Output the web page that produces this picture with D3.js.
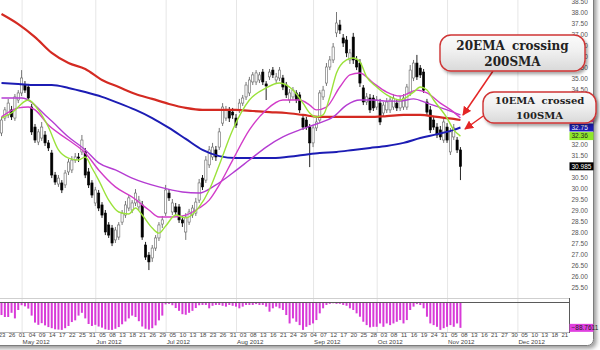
<!DOCTYPE html>
<html>
<head>
<meta charset="utf-8">
<script src="https://cdn.jsdelivr.net/npm/d3@7"></script>
<style>
  html, body { margin: 0; padding: 0; background: #fff; }
  svg { display: block; font-family: "Liberation Sans", Arial, sans-serif; }
</style>
</head>
<body>
<svg id="chart" width="600" height="350"></svg>
<script>
// daily candles, one per trading day from 2012-04-23
var opens = [
  32.50,33.18,33.32,33.55,33.18,34.00,34.32,34.68,34.59,33.68,
  32.77,32.09,32.27,32.41,32.05,31.59,30.59,30.18,30.23,30.14,
  30.73,30.82,31.27,31.41,31.64,31.64,30.73,30.23,29.32,29.77,
  29.23,28.86,28.32,28.18,27.64,27.77,28.45,28.77,29.09,29.00,
  29.32,29.14,29.23,27.41,26.95,26.82,27.27,27.73,28.36,28.86,
  29.77,28.91,29.14,29.14,28.55,28.00,28.45,28.77,28.86,29.45,
  30.45,30.36,31.05,31.41,31.73,31.86,32.95,33.18,33.55,33.45,
  33.18,33.55,33.86,34.14,34.32,34.82,34.82,34.91,35.27,34.73,
  35.05,35.36,34.91,35.00,35.00,34.68,34.00,34.14,34.32,34.23,
  33.18,33.09,32.77,32.05,32.73,33.09,34.14,34.77,35.50,35.82,
  37.05,37.41,36.82,36.73,35.82,36.86,35.82,35.68,34.55,33.91,
  34.09,34.09,33.68,33.86,33.41,33.55,33.55,33.68,33.86,33.64,
  33.68,33.68,34.32,35.00,35.68,35.45,35.27,33.91,33.55,33.09,
  32.77,32.64,32.18,32.77,31.64,32.32,32.18,31.73
];
var highs = [
  33.23,33.68,34.05,33.73,34.27,34.45,35.36,34.86,34.73,33.82,
  32.91,32.68,33.00,32.59,32.18,31.73,30.73,30.59,30.36,30.82,
  31.32,31.45,31.59,31.59,32.41,31.82,30.91,30.36,30.05,29.91,
  29.36,29.00,28.45,28.32,28.23,28.45,29.00,29.41,29.68,29.45,
  29.95,29.64,29.41,27.55,27.09,27.41,27.86,28.45,28.73,30.14,
  29.95,29.50,29.32,29.27,28.73,28.86,29.05,29.23,29.55,30.41,
  30.59,31.45,31.91,32.05,31.91,32.73,33.86,33.73,33.68,33.64,
  33.36,34.05,34.23,34.82,35.05,35.27,35.36,35.27,35.41,34.86,
  35.41,35.50,35.23,35.50,35.14,34.82,34.50,34.59,34.45,34.36,
  33.32,33.23,32.91,32.86,33.18,34.45,34.64,35.68,36.00,36.59,
  38.00,37.64,37.00,36.91,36.32,37.05,36.00,35.86,34.68,34.32,
  34.27,34.23,34.18,34.05,33.91,34.09,34.18,34.27,34.05,34.18,
  34.27,34.73,35.59,35.82,36.05,35.59,35.41,34.05,33.73,33.27,
  32.95,32.82,33.18,32.95,32.73,32.91,32.32,31.86
];
var lows = [
  32.36,33.05,33.18,33.09,33.05,33.86,34.18,34.32,33.95,32.41,
  32.05,31.95,32.14,31.91,31.68,30.45,30.14,30.05,29.77,30.00,
  30.59,30.68,31.14,31.18,31.50,30.45,30.00,29.55,29.18,28.95,
  28.64,27.86,27.73,27.36,27.50,27.64,28.32,28.64,28.95,28.86,
  29.18,29.00,27.64,26.73,26.27,26.64,27.14,27.59,28.18,28.73,
  29.41,28.77,28.77,28.41,28.23,27.64,28.32,28.64,28.73,29.32,
  29.91,30.23,30.91,31.27,31.23,31.73,32.82,33.05,33.00,33.14,
  32.73,33.41,33.73,34.00,34.18,34.68,34.68,34.77,34.68,34.00,
  34.91,35.00,34.77,34.86,34.45,34.09,33.86,34.00,33.86,33.41,
  32.64,32.64,30.95,31.86,32.59,32.95,34.00,34.64,35.36,35.68,
  36.86,37.00,36.41,35.95,35.64,35.64,35.36,34.59,33.77,33.77,
  33.41,33.50,33.55,32.86,33.27,33.41,33.41,33.55,33.50,33.50,
  33.55,33.55,34.18,34.86,34.91,35.00,34.32,33.32,32.50,32.64,
  32.27,32.18,32.05,32.05,31.50,32.18,31.59,30.36
];
var closes = [
  33.09,33.55,33.86,33.23,34.14,34.32,35.00,34.45,34.09,32.55,
  32.18,32.55,32.77,32.05,31.82,30.59,30.27,30.45,29.91,30.68,
  31.18,31.27,31.41,31.36,32.18,30.59,30.14,29.68,29.91,29.09,
  28.77,28.00,27.86,27.50,28.09,28.32,28.86,29.23,29.55,29.32,
  29.77,29.45,27.77,26.86,26.64,27.27,27.73,28.32,28.55,29.91,
  29.55,29.32,28.91,28.55,28.41,28.68,28.91,29.09,29.36,30.23,
  30.05,31.27,31.73,31.86,31.41,32.55,33.68,33.55,33.18,33.32,
  32.86,33.86,34.09,34.68,34.91,35.14,35.23,35.14,34.82,34.64,
  35.27,35.14,35.05,35.36,34.59,34.23,34.32,34.45,34.00,33.55,
  32.77,32.77,32.05,32.73,33.00,34.32,34.45,35.50,35.82,36.41,
  37.50,37.18,36.59,36.14,36.14,35.82,35.50,34.77,33.91,34.14,
  33.55,33.64,34.00,33.00,33.77,33.91,34.00,34.09,33.64,34.00,
  34.09,34.59,35.36,35.68,35.05,35.14,34.45,33.45,32.64,32.77,
  32.41,32.32,33.00,32.18,32.55,32.73,31.73,30.985
];

// Williams %R, lower pane
var willR = [
  -43,-50,-50,-35,-55,-25,-8,-12,-20,-45,
  -70,-78,-72,-80,-86,-90,-94,-95,-96,-90,
  -82,-68,-62,-45,-35,-55,-75,-82,-78,-84,
  -88,-94,-96,-96,-92,-86,-76,-66,-55,-45,
  -50,-65,-84,-92,-95,-90,-80,-62,-45,-5,
  -3,-8,-18,-28,-40,-42,-35,-28,-18,-8,
  -7,-7,-19,-10,-7,-7,-10,-13,-7,-10,
  -13,-19,-13,-7,-7,-7,-4,-7,-7,-13,
  -31,-19,-13,-19,-25,-43,-73,-55,-67,-79,
  -96,-85,-79,-73,-61,-37,-19,-7,-3,-1,
  -3,-3,-7,-10,-19,-25,-37,-49,-67,-79,
  -87,-85,-85,-73,-85,-73,-79,-73,-67,-61,
  -73,-61,-25,-13,-4,-7,-19,-49,-73,-79,
  -85,-96,-90,-85,-79,-85,-73,-88.7611
];

// moving averages at the listed trading days
var smaDays = [0,5,10,15,20,25,30,35,40,45,50,55,60,65,70,75,80,85,90,95,100,105,110,115,120,125,130,135,137];
var sma200 = [37.91,37.45,36.86,36.14,35.68,35.41,34.91,34.59,34.27,34.05,33.82,33.64,33.55,33.55,33.55,33.50,33.45,33.41,33.32,33.23,33.23,33.23,33.23,33.27,33.32,33.32,33.23,33.14,33.09];
var sma100 = [34.77,34.73,34.68,34.68,34.55,34.36,34.14,33.86,33.55,33.18,32.73,32.23,31.73,31.45,31.36,31.36,31.36,31.41,31.50,31.59,31.64,31.73,31.82,31.91,32.05,32.27,32.45,32.64,32.75];

var ema10Days = [0,3,8,11,14,17,20,23,25,27,29,32,35,38,40,42,45,47,49,52,55,59,62,65,69,74,79,83,87,90,92,94,96,98,100,103,105,107,109,112,115,119,123,125,127,129,133,135,137];
var ema10 = [33.18,33.41,34.00,33.55,32.77,31.73,31.36,31.27,31.41,30.91,30.36,29.45,28.91,28.82,29.09,28.77,28.18,27.95,28.27,28.77,28.64,29.14,29.91,31.05,32.64,34.00,34.55,34.77,34.45,33.86,33.41,33.23,33.32,34.14,35.23,35.82,35.91,35.73,35.05,34.59,34.23,34.00,34.36,34.59,34.45,34.00,33.18,32.64,32.36];

var ema20Days = [0,5,8,10,14,20,25,29,34,39,44,47,51,55,59,62,65,69,74,79,84,89,92,94,97,101,104,107,111,115,119,124,127,131,135,137];
var ema20 = [33.23,33.64,33.68,33.55,32.86,32.18,31.59,30.82,30.05,29.59,29.00,28.68,28.68,28.77,29.09,29.45,30.14,31.27,32.64,33.55,34.00,34.00,33.77,33.55,33.68,34.59,35.14,35.23,34.77,34.36,34.18,34.45,34.32,33.86,33.45,33.18];

var ema50Days = [0,6,14,20,25,29,34,39,47,54,59,64,69,74,79,84,89,94,99,103,107,111,115,119,123,127,133,137];
var ema50 = [34.09,34.09,33.18,32.32,31.73,31.14,30.82,30.45,30.05,29.82,29.77,30.14,30.68,31.27,31.86,32.32,32.64,32.91,33.23,33.77,34.00,34.00,33.95,33.95,34.05,33.86,33.55,33.32];

var holidays = ["2012-05-28","2012-07-04","2012-09-03","2012-10-29","2012-10-30","2012-11-22","2012-12-25"];
var priceTicks = d3.range(25.5, 38.51, 0.5);
var callout1 = ["20EMA crossing", "200SMA"];
var callout2 = ["10EMA crossed", "100SMA"];

var parse = d3.timeParse("%Y-%m-%d"),
    iso = d3.timeFormat("%Y-%m-%d");
var days = d3.timeDay.range(parse("2012-04-23"), parse("2012-12-31"))
    .filter(d => d.getDay() !== 0 && d.getDay() !== 6 && holidays.indexOf(iso(d)) < 0);

var plotRight = 569;

var x = d3.scaleLinear().domain([0, 168]).range([1.5, 1.5 + 3.35 * 168]);
var y = d3.scaleLinear().domain([25.5, 38]).range([287, 12]);
var yW = d3.scaleLinear().domain([-100, 0]).range([331, 303]);

var svg = d3.select("#chart");
var defs = svg.append("defs");

defs.append("filter").attr("id", "frameShadow")
    .attr("x", "-5%").attr("y", "-5%").attr("width", "115%").attr("height", "115%")
  .append("feDropShadow")
    .attr("dx", 2.5).attr("dy", 2.5).attr("stdDeviation", 2)
    .attr("flood-color", "#000").attr("flood-opacity", 0.4);

defs.append("filter").attr("id", "boxShadow")
    .attr("x", "-10%").attr("y", "-20%").attr("width", "130%").attr("height", "150%")
  .append("feDropShadow")
    .attr("dx", 2).attr("dy", 2.5).attr("stdDeviation", 1.6)
    .attr("flood-color", "#000").attr("flood-opacity", 0.35);

var grad = defs.append("linearGradient").attr("id", "boxFill")
    .attr("x1", 0).attr("y1", 0).attr("x2", 0).attr("y2", 1);
grad.append("stop").attr("offset", "0%").attr("stop-color", "#fbfbfb");
grad.append("stop").attr("offset", "45%").attr("stop-color", "#f0f0f0");
grad.append("stop").attr("offset", "100%").attr("stop-color", "#d9d9d9");

defs.append("marker").attr("id", "arrow")
    .attr("viewBox", "0 0 10 10").attr("refX", 9).attr("refY", 5)
    .attr("markerWidth", 6).attr("markerHeight", 6).attr("orient", "auto")
  .append("path").attr("d", "M0,0L10,5L0,10z").attr("fill", "#e42626");

// outer frame (only its right and bottom edges are in view)
svg.append("rect")
    .attr("x", -20).attr("y", -20).attr("width", 613.5).attr("height", 365.5).attr("rx", 6)
    .attr("fill", "#fff").attr("stroke", "#7c7c7c").attr("filter", "url(#frameShadow)");

// month grid lines
var monthStarts = d3.range(1, days.length).filter(i => days[i].getMonth() !== days[i - 1].getMonth());
svg.append("g").selectAll("line").data(monthStarts).join("line")
    .attr("x1", d => x(d) + 0.5).attr("x2", d => x(d) + 0.5)
    .attr("y1", 0).attr("y2", 332)
    .attr("stroke", "#e6e6e6");

// pane borders
svg.append("line").attr("x1", 0).attr("x2", plotRight).attr("y1", 298.5).attr("y2", 298.5).attr("stroke", "#cfcfcf");
svg.append("line").attr("x1", 0).attr("x2", plotRight).attr("y1", 302.5).attr("y2", 302.5).attr("stroke", "#5a5a5a");
svg.append("line").attr("x1", 0).attr("x2", plotRight).attr("y1", 332.5).attr("y2", 332.5).attr("stroke", "#b5b5b5");
svg.append("line").attr("x1", plotRight + 0.5).attr("x2", plotRight + 0.5).attr("y1", 298).attr("y2", 333).attr("stroke", "#5a5a5a");

// candles
var idx = d3.range(closes.length);
var candles = svg.append("g");
candles.selectAll("line").data(idx).join("line")
    .attr("x1", i => x(i)).attr("x2", i => x(i))
    .attr("y1", i => y(highs[i])).attr("y2", i => y(lows[i]))
    .attr("stroke", i => closes[i] >= opens[i] ? "#777" : "#222")
    .attr("stroke-width", 1);
candles.selectAll("rect").data(idx).join("rect")
    .attr("x", i => x(i) - 1.1)
    .attr("width", 2.2)
    .attr("y", i => y(Math.max(opens[i], closes[i])))
    .attr("height", i => Math.max(0.8, Math.abs(y(opens[i]) - y(closes[i]))))
    .attr("fill", i => closes[i] >= opens[i] ? "#fff" : "#000")
    .attr("stroke", i => closes[i] >= opens[i] ? "#666" : "#000")
    .attr("stroke-width", 0.6);

// moving averages
function maLine(daysArr, vals, color, w) {
  var line = d3.line()
      .x((d, k) => x(daysArr[k]))
      .y(d => y(d))
      .curve(d3.curveMonotoneX);
  svg.append("path").datum(vals)
      .attr("d", line)
      .attr("fill", "none")
      .attr("stroke", color)
      .attr("stroke-width", w)
      .attr("stroke-linejoin", "round");
}
maLine(smaDays, sma200, "#d42a22", 2.2);
maLine(smaDays, sma100, "#1c1cb4", 2);
maLine(ema50Days, ema50, "#b43cd2", 1.4);
maLine(ema20Days, ema20, "#d23cc8", 1.4);
maLine(ema10Days, ema10, "#9be23a", 1.4);

// %R bars
svg.append("g").selectAll("rect").data(idx).join("rect")
    .attr("x", i => x(i) - 1)
    .attr("width", 2)
    .attr("y", 303)
    .attr("height", i => yW(willR[i]) - 303)
    .attr("fill", "#d83ad8");

// value tags on the right edge; labels they sit on are not shown
var last = closes.length - 1;
var tags = [
  {v: y(ema20[ema20.length - 1]), label: d3.format(".2f")(ema20[ema20.length - 1]), bg: "#d23cd2", fg: "#222"},
  {v: y(sma100[sma100.length - 1]), label: d3.format(".2f")(sma100[sma100.length - 1]), bg: "#1c1cb4", fg: "#fff"},
  {v: y(ema10[ema10.length - 1]), label: d3.format(".2f")(ema10[ema10.length - 1]), bg: "#8ee82a", fg: "#222"},
  {v: y(closes[last]), label: d3.format(".3f")(closes[last]), bg: "#000", fg: "#fff"},
  {v: yW(willR[last]), label: d3.format(".4f")(willR[last]), bg: "#e040e0", fg: "#222"}
];
// second callout box covers the axis between these pixel rows
var box2Top = 92, box2Bottom = 123;
var shownTicks = priceTicks.filter(t => {
  var ty = y(t);
  if (ty > box2Top - 2 && ty < box2Bottom + 2) return false;
  return tags.every(g => Math.abs(g.v - ty) > 6);
});

// price axis
var yAxis = svg.append("g")
    .attr("transform", "translate(" + plotRight + ",0)")
    .call(d3.axisRight(y).tickValues(shownTicks).tickFormat(d3.format(".2f")).tickSize(0).tickPadding(2.5));
yAxis.select(".domain").remove();
yAxis.attr("font-size", 6.5).attr("font-family", null);
yAxis.selectAll("text").attr("fill", "#555");

tags.forEach(g => {
  svg.append("rect").attr("x", plotRight + 0.5).attr("y", g.v - 4).attr("width", 24).attr("height", 8).attr("fill", g.bg);
  svg.append("text").attr("x", plotRight + 2.5).attr("y", g.v).attr("dy", "0.35em")
      .attr("font-size", 6.5).attr("fill", g.fg).text(g.label);
});

// date axis
var dayFmt = d3.timeFormat("%d"),
    monFmt = d3.timeFormat("%b %Y");
var dateTicks = d3.range(0, days.length, 3).filter(i => x(i) < 566);
var xAxis = svg.append("g")
    .attr("transform", "translate(0,332)")
    .call(d3.axisBottom(x).tickValues(dateTicks).tickFormat(i => dayFmt(days[i])).tickSize(0).tickPadding(1));
xAxis.select(".domain").remove();
xAxis.attr("font-size", 6).attr("font-family", null);
xAxis.selectAll("text").attr("fill", "#444");

svg.append("g").selectAll("text").data(monthStarts).join("text")
    .attr("x", d => x(d) + 1)
    .attr("y", 344)
    .attr("font-size", 6.2)
    .attr("fill", "#444")
    .text(d => monFmt(days[d]));

// callouts
function callout(bx, by, bw, bh, lines, size, base1, base2) {
  var g = svg.append("g");
  g.append("rect")
      .attr("x", bx).attr("y", by).attr("width", bw).attr("height", bh).attr("rx", 11)
      .attr("fill", "url(#boxFill)").attr("stroke", "#cf3434").attr("stroke-width", 1.4)
      .attr("filter", "url(#boxShadow)");
  g.selectAll("text").data(lines).join("text")
      .attr("x", bx + bw / 2)
      .attr("y", (d, k) => k === 0 ? base1 : base2)
      .attr("text-anchor", "middle")
      .attr("font-family", "'DejaVu Serif', serif")
      .attr("font-weight", "bold")
      .attr("font-size", size)
      .attr("word-spacing", 3)
      .attr("fill", "#222")
      .text(d => d);
}

svg.append("line").attr("x1", 493).attr("y1", 71).attr("x2", 463).attr("y2", 115)
    .attr("stroke", "#e42626").attr("stroke-width", 1.5).attr("marker-end", "url(#arrow)");
svg.append("line").attr("x1", 486).attr("y1", 114).attr("x2", 465).attr("y2", 129)
    .attr("stroke", "#e42626").attr("stroke-width", 1.5).attr("marker-end", "url(#arrow)");

callout(440, 35, 145, 36, callout1, 12, 50, 66);
callout(483, box2Top, 113, box2Bottom - box2Top, callout2, 10, 104, 119);
</script>
</body>
</html>
